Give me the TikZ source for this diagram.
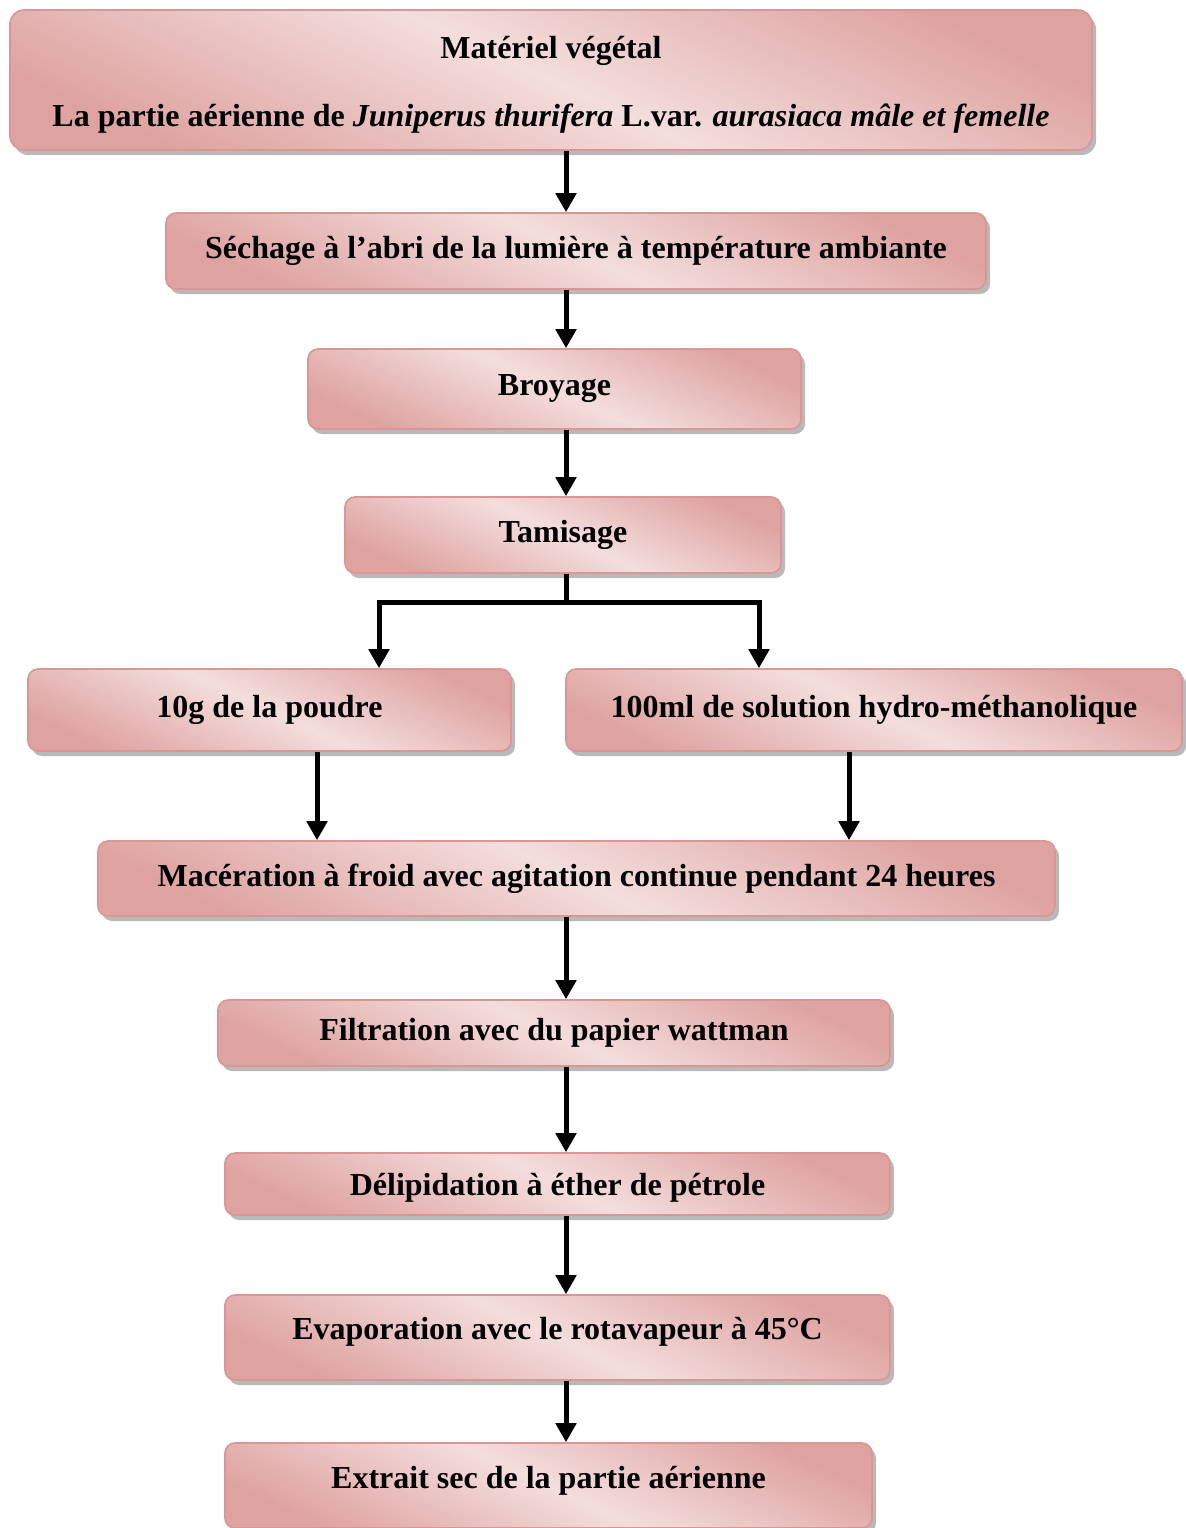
\documentclass[tikz,border=0pt]{standalone}
\usepackage{fontspec}
\setmainfont{Liberation Serif}
\usepackage{tikz}
\usetikzlibrary{arrows.meta,shadows}
\definecolor{RoseBord}{RGB}{217,150,148}
\definecolor{RoseClair}{RGB}{243,222,221}
\definecolor{RoseFonce}{RGB}{222,163,161}

\begin{document}
\begin{tikzpicture}[x=0.5pt,y=-0.5pt,>={Triangle[width=10pt,length=9.5pt]},
  etape/.style={draw=RoseBord,line width=0.8pt,rounded corners=5pt,
    top color=RoseFonce,bottom color=RoseFonce,middle color=RoseClair,shading angle=-25,
    drop shadow={shadow xshift=2pt,shadow yshift=-2.5pt,fill=black!50,opacity=0.55},
    font=\bfseries\fontsize{16}{19}\selectfont,align=center,inner sep=0pt},
  fleche/.style={->,line width=2.5pt}]
  \useasboundingbox (0,0) rectangle (1186,1528);

  \coordinate (axe) at (566,0);
  \coordinate (gauche) at (379,0);
  \coordinate (droite) at (759,0);
  \coordinate (basgauche) at (317,0);
  \coordinate (basdroite) at (849,0);

  \node[etape,rounded corners=7pt,minimum width=541pt,minimum height=70pt] (materiel) at (551,80)
    {\rule{0pt}{16pt}Matériel végétal\\[15pt] La partie aérienne de \textit{Juniperus thurifera} L.var. \textit{aurasiaca mâle et femelle}};
  \node[etape,minimum width=410pt,minimum height=38pt] (sechage) at (576,251)
    {Séchage à l’abri de la lumière à température ambiante};
  \node[etape,minimum width=246.5pt,minimum height=40pt] (broyage) at (554.5,389) {Broyage};
  \node[etape,minimum width=218pt,minimum height=38pt] (tamisage) at (563,535) {Tamisage};
  \node[etape,minimum width=241.5pt,minimum height=41pt] (poudre) at (269.5,710) {10g de la poudre};
  \node[etape,minimum width=308pt,minimum height=41pt] (solution) at (874,710)
    {100ml de solution hydro-méthanolique};
  \node[etape,minimum width=478.5pt,minimum height=37.5pt] (maceration) at (576.5,878.5)
    {Macération à froid avec agitation continue pendant 24 heures};
  \node[etape,minimum width=336pt,minimum height=33pt] (filtration) at (554,1033)
    {Filtration avec du papier wattman};
  \node[etape,minimum width=332.5pt,minimum height=31pt] (delipidation) at (557.5,1184)
    {\rule{0pt}{15pt}Délipidation à éther de pétrole};
  \node[etape,minimum width=332.5pt,minimum height=42.5pt] (evaporation) at (557.5,1337.5)
    {Evaporation avec le rotavapeur à 45°C\rule[-9pt]{0pt}{9pt}};
  \node[etape,minimum width=323.5pt,minimum height=42.5pt] (extrait) at (548.5,1485.5)
    {Extrait sec de la partie aérienne\rule[-8pt]{0pt}{8pt}};

  \draw[fleche] (materiel.south -| axe) -- (sechage.north -| axe);
  \draw[fleche] (sechage.south -| axe) -- (broyage.north -| axe);
  \draw[fleche] (broyage.south -| axe) -- (tamisage.north -| axe);
  \draw[line width=2.5pt] (tamisage.south -| axe) -- ++(0,29) coordinate (partage);
  \draw[fleche] (partage) -| (poudre.north -| gauche);
  \draw[fleche] (partage) -| (solution.north -| droite);
  \draw[fleche] (poudre.south -| basgauche) -- (maceration.north -| basgauche);
  \draw[fleche] (solution.south -| basdroite) -- (maceration.north -| basdroite);
  \draw[fleche] (maceration.south -| axe) -- (filtration.north -| axe);
  \draw[fleche] (filtration.south -| axe) -- (delipidation.north -| axe);
  \draw[fleche] (delipidation.south -| axe) -- (evaporation.north -| axe);
  \draw[fleche] (evaporation.south -| axe) -- (extrait.north -| axe);
\end{tikzpicture}
\end{document}
